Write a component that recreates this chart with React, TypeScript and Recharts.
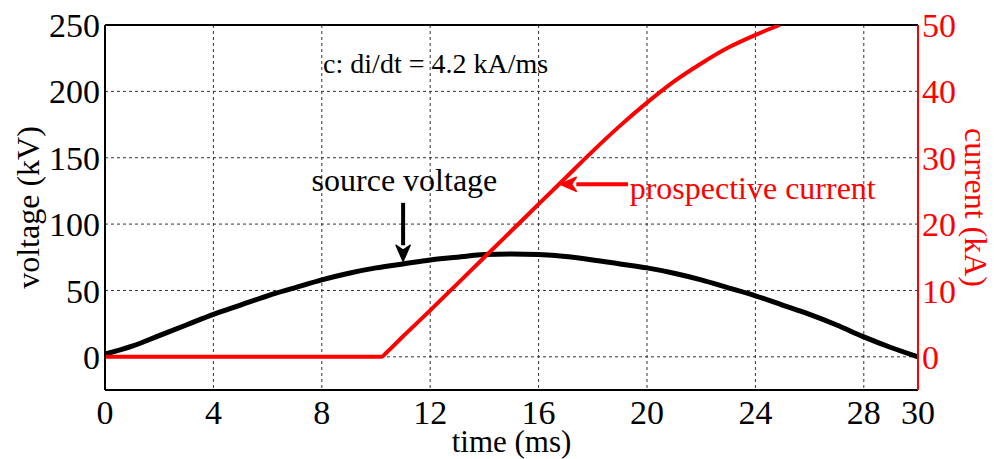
import React from 'react';
import {
  LineChart, Line, XAxis, YAxis, CartesianGrid, ReferenceLine, ReferenceDot, Label,
} from 'recharts';

// source voltage (kV) vs time (ms)
const voltTime = [0, 1, 2, 3, 4, 5, 6, 7, 8, 9, 10, 11, 12, 13, 14, 15, 16, 17, 18, 19, 20, 21, 22, 23, 24, 25, 26, 27, 28, 29, 30];
const voltValues = [2, 8, 16, 24, 32, 39, 46, 52, 58, 63, 67, 70, 73, 75, 77, 77.5, 77, 75.5, 73, 70, 67, 63, 58, 52, 46, 39, 32, 24, 15, 7, 0];

// prospective current (kA) vs time (ms)
const currTime = [0, 2, 4, 6, 8, 10, 10.2, 10.4, 11, 12, 13, 14, 15, 16, 17, 18, 19, 20, 21, 22, 23, 24, 24.9];
const currValues = [0, 0, 0, 0, 0, 0, 0, 0.7, 3.1, 7, 11, 15, 19, 23, 27, 31, 34.8, 38.3, 41.5, 44.2, 46.6, 48.5, 50];

const timeTicks = [0, 4, 8, 12, 16, 20, 24, 28, 30];
const voltTicks = [0, 50, 100, 150, 200, 250];
const currTicks = [0, 10, 20, 30, 40, 50];

const voltData = voltTime.map((t, i) => ({ t, v: voltValues[i] }));
const currData = currTime.map((t, i) => ({ t, c: currValues[i] }));

const FONT = '"Liberation Serif", "Times New Roman", serif';
const RED = '#ff0000';

const arrow = (color: string) => (p: any) => {
  const { x1, y1, x2, y2 } = p;
  const ang = Math.atan2(y2 - y1, x2 - x1);
  const len = 16;
  const w = 7;
  const bx = x2 - len * Math.cos(ang);
  const by = y2 - len * Math.sin(ang);
  const nx = -Math.sin(ang) * w;
  const ny = Math.cos(ang) * w;
  return (
    <g>
      <line x1={x1} y1={y1} x2={bx} y2={by} stroke={color} strokeWidth={4} />
      <polygon points={`${x2},${y2} ${bx + nx},${by + ny} ${bx + len * 0.3 * Math.cos(ang)},${by + len * 0.3 * Math.sin(ang)} ${bx - nx},${by - ny}`} fill={color} stroke={color} strokeWidth={1.5} strokeLinejoin="round" />
    </g>
  );
};

const textShape = (txt: string, color: string, size: number) => (p: any) => (
  <text x={p.cx} y={p.cy} fill={color} fontSize={size} fontFamily={FONT} textAnchor="middle">{txt}</text>
);

const tickStyle = (color: string) => ({ fill: color, fontSize: 34, fontFamily: FONT });

export default function App() {
  return (
    <div style={{ position: 'absolute', left: 0, top: 0, background: '#fff' }}>
      <LineChart width={994} height={459} margin={{ top: 25, right: 0, bottom: 0, left: 0 }}>
        <CartesianGrid yAxisId="v" stroke="#333" strokeDasharray="3 3" strokeWidth={1} />
        <XAxis
          dataKey="t" type="number" domain={[0, 30]} ticks={timeTicks} allowDataOverflow
          height={69} tickSize={0} tickMargin={10} tickLine={false}
          axisLine={{ stroke: '#000', strokeWidth: 2 }}
          tick={tickStyle('#000')}
        >
          <Label value="time (ms)" position="insideBottom" offset={7} fill="#000" fontSize={31} fontFamily={FONT} />
        </XAxis>
        <YAxis
          yAxisId="v" domain={[-25, 250]} ticks={voltTicks} allowDataOverflow
          width={105} tickSize={0} tickMargin={5} tickLine={false}
          axisLine={{ stroke: '#000', strokeWidth: 2 }}
          tick={tickStyle('#000')}
        >
          <Label value="voltage (kV)" angle={-90} position="insideLeft" offset={28} fill="#000" fontSize={32} fontFamily={FONT} style={{ textAnchor: 'middle' }} />
        </YAxis>
        <YAxis
          yAxisId="c" orientation="right" domain={[-5, 50]} ticks={currTicks} allowDataOverflow
          width={76} tickSize={0} tickMargin={4} tickLine={false}
          axisLine={{ stroke: RED, strokeWidth: 2 }}
          tick={tickStyle(RED)}
        >
          <Label value="current (kA)" angle={90} position="insideRight" offset={18} fill={RED} fontSize={32} fontFamily={FONT} style={{ textAnchor: 'middle' }} />
        </YAxis>
        <ReferenceLine yAxisId="v" y={250} stroke="#000" strokeWidth={2} />
        <Line yAxisId="v" data={voltData} dataKey="v" type="monotone" stroke="#000" strokeWidth={5} dot={false} isAnimationActive={false} />
        <Line yAxisId="c" data={currData} dataKey="c" type="monotone" stroke={RED} strokeWidth={4} dot={false} isAnimationActive={false} />
        <ReferenceLine yAxisId="v" segment={[{ x: 11, y: 116 }, { x: 11, y: 72 }]} shape={arrow('#000')} />
        <ReferenceLine yAxisId="c" segment={[{ x: 19.3, y: 26 }, { x: 16.8, y: 26 }]} shape={arrow(RED)} />
        <ReferenceDot yAxisId="v" x={11.05} y={125} r={0} shape={textShape('source voltage', '#000', 32)} />
        <ReferenceDot yAxisId="c" x={23.9} y={23.8} r={0} shape={textShape('prospective current', RED, 32)} />
        <ReferenceDot yAxisId="v" x={12.2} y={214} r={0} shape={textShape('c: di/dt = 4.2 kA/ms', '#000', 28)} />
      </LineChart>
    </div>
  );
}
